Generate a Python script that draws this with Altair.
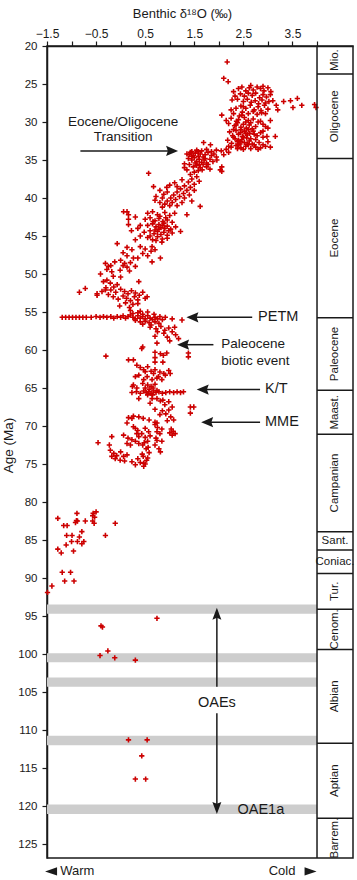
import altair as alt
import pandas as pd

# ---------------- data: (benthic d18O permil, age Ma) ----------------
oligocene_points = [
    (2.17, 22.1), (2.10, 24.25), (2.19, 24.7),
    (2.40, 25.6), (2.47, 25.4), (2.55, 25.9), (2.62, 25.5), (2.70, 25.8), (2.78, 25.4), (2.85, 25.6),
    (2.92, 25.9), (3.00, 25.5), (3.06, 26.0), (2.65, 25.2), (2.90, 25.3), (2.30, 26.0),
    (2.44, 26.3), (2.52, 26.6), (2.60, 26.2), (2.68, 26.5), (2.75, 26.2), (2.83, 26.8), (2.90, 26.4),
    (2.97, 26.7), (3.05, 26.4),
    (2.38, 27.0), (2.50, 27.3), (2.58, 27.0), (2.66, 27.4), (2.74, 27.2), (2.81, 27.6), (2.88, 27.1),
    (2.95, 27.5), (3.02, 27.3), (3.10, 27.2),
    (2.27, 27.1), (2.33, 26.6), (2.45, 27.9), (2.55, 28.2), (2.64, 27.8), (2.72, 28.4), (2.80, 28.0),
    (2.86, 28.5), (2.93, 27.8), (3.00, 28.3), (3.17, 27.8), (3.20, 28.4), (2.35, 28.2), (2.25, 28.4),
    (2.50, 28.0),
    (3.32, 27.3), (3.46, 27.2), (3.60, 26.9), (3.51, 28.1), (3.69, 27.8), (3.95, 27.7), (3.98, 28.1),
    (2.48, 28.7), (2.60, 28.9), (2.70, 28.6), (2.78, 29.0), (2.87, 28.8), (2.95, 28.9), (2.06, 29.1),
    (2.30, 28.9), (2.42, 29.2), (2.47, 29.1),
    (2.25, 29.5), (2.40, 29.7), (2.52, 29.4), (2.60, 29.8), (2.70, 29.6), (2.85, 29.9), (2.55, 30.0),
    (2.36, 29.9), (2.15, 29.8), (3.05, 29.8), (2.65, 30.1), (2.80, 30.0),
    (2.20, 30.2), (2.32, 30.5), (2.38, 30.1), (2.45, 30.7), (2.50, 30.3), (2.56, 30.8), (2.62, 30.4),
    (2.68, 30.9), (2.75, 30.6), (2.90, 30.3), (3.00, 30.8), (2.95, 30.6),
    (2.22, 31.3), (2.28, 31.8), (2.35, 31.1), (2.40, 31.6), (2.44, 31.4), (2.48, 31.9), (2.52, 31.2),
    (2.58, 31.7), (2.63, 31.5), (2.70, 31.2), (2.78, 31.8), (2.85, 31.4), (2.98, 31.9), (3.15, 31.9),
    (2.30, 31.0), (2.60, 31.0), (2.72, 31.6), (2.90, 31.2),
    (2.18, 32.4), (2.26, 32.8), (2.33, 32.2), (2.38, 32.6), (2.43, 32.9), (2.47, 32.3), (2.52, 32.7),
    (2.57, 32.1), (2.62, 32.5), (2.68, 32.9), (2.75, 32.3), (2.82, 32.7), (2.90, 33.0), (3.00, 32.6),
    (2.90, 32.0), (2.30, 32.0), (2.45, 32.6), (2.58, 32.9), (2.72, 33.0),
    (2.25, 33.3), (2.35, 33.1), (2.45, 33.4), (2.55, 33.2), (2.65, 33.5), (2.75, 33.3), (2.85, 33.4),
    (2.95, 33.2), (3.05, 33.3), (2.60, 33.0), (2.50, 33.6), (2.40, 33.0), (2.80, 33.6), (2.38, 33.5),
    (2.20, 33.2),
    (2.45, 31.0), (2.55, 31.5), (2.35, 30.4), (2.65, 32.2), (2.50, 32.0), (2.40, 32.4),
]

eocene_points = [
    # Eocene/Oligocene step
    (1.45, 33.9), (1.55, 33.7), (1.65, 33.8), (1.75, 33.6), (1.85, 33.9), (1.95, 33.7), (2.05, 33.8),
    (2.15, 33.6), (1.69, 32.7), (1.83, 33.0), (2.20, 34.0), (1.58, 33.9),
    (1.35, 34.2), (1.42, 34.0), (1.48, 34.4), (1.52, 34.1), (1.58, 34.5), (1.62, 34.2), (1.68, 34.6),
    (1.72, 34.3), (1.78, 34.0), (1.85, 34.4), (1.90, 34.2), (1.45, 34.5), (1.40, 34.3), (1.95, 34.6),
    (2.10, 34.3),
    (1.38, 34.8), (1.45, 35.0), (1.50, 34.7), (1.55, 35.2), (1.60, 34.9), (1.65, 35.3), (1.70, 35.0),
    (1.75, 35.4), (1.82, 34.9), (1.88, 35.2), (1.30, 35.5), (1.72, 34.8), (1.52, 35.4),
    (1.40, 35.6), (1.48, 35.9), (1.55, 35.7), (1.62, 36.0), (1.68, 35.6), (1.75, 35.9), (1.82, 36.2),
    (1.58, 36.4), (1.50, 36.6), (1.96, 35.0), (2.03, 36.3), (2.06, 36.5), (2.06, 35.9), (1.42, 36.9),
    (1.35, 36.3), (1.60, 35.6), (1.66, 36.3), (1.78, 35.6), (1.30, 36.0),
    # late middle Eocene
    (0.57, 36.75),
    (1.55, 37.2), (1.45, 37.5), (1.60, 37.8), (1.38, 37.9), (1.50, 38.2), (1.30, 38.4), (1.42, 38.6),
    (1.22, 38.8), (1.35, 39.0), (1.15, 39.2), (1.28, 39.4), (1.08, 39.6), (1.20, 39.8), (1.02, 40.0),
    (1.12, 40.2), (0.95, 40.4), (1.05, 40.6), (0.90, 40.8), (1.00, 41.0), (0.85, 41.2), (1.35, 42.2),
    (1.62, 41.1), (0.67, 38.5), (0.80, 39.0), (0.94, 38.6), (0.72, 39.8), (0.88, 39.5),
    (1.10, 38.0), (1.25, 37.6), (1.00, 38.3), (1.15, 38.5), (0.95, 39.2), (1.40, 39.6), (1.50, 39.0),
    (1.30, 40.0), (0.85, 40.0), (0.80, 40.6), (1.15, 41.0), (1.25, 40.6), (0.70, 40.3), (1.45, 40.4),
    # middle Eocene
    (0.13, 41.8), (0.06, 41.8), (0.16, 42.2), (0.16, 42.8), (0.16, 43.5), (0.40, 43.6), (0.30, 42.5),
    (0.22, 44.3), (0.35, 44.0),
    (0.55, 42.0), (0.65, 41.8), (0.75, 42.2), (0.90, 41.9), (1.00, 42.3), (1.10, 42.0),
    (0.50, 42.8), (0.60, 42.6), (0.70, 43.0), (0.78, 42.7), (0.86, 43.1), (0.95, 42.9), (1.05, 43.2),
    (0.55, 43.6), (0.65, 43.4), (0.72, 43.8), (0.78, 43.5), (0.82, 43.9), (0.86, 43.6), (0.90, 44.0),
    (0.95, 43.7), (1.02, 44.1), (1.12, 43.8),
    (0.48, 44.5), (0.60, 44.3), (0.68, 44.7), (0.75, 44.4), (0.82, 44.8), (0.88, 44.5), (0.95, 44.9),
    (1.05, 44.6), (1.22, 44.4),
    (0.55, 45.2), (0.65, 45.5), (0.75, 45.1), (0.85, 45.4), (0.95, 45.3), (0.40, 45.0), (0.30, 45.5),
    (0.78, 44.1), (0.70, 44.2), (0.88, 43.3), (0.92, 42.6), (0.66, 43.1), (0.60, 45.0), (0.72, 45.6),
    (0.80, 42.4), (0.98, 44.3), (0.84, 45.8),
    # early Eocene
    (-0.07, 46.0), (0.13, 46.5), (0.23, 46.8), (0.40, 46.4), (0.50, 46.7), (0.64, 46.4), (0.70, 46.8),
    (0.81, 47.9), (0.64, 48.4), (0.26, 47.9), (0.13, 47.6), (0.45, 47.3), (0.35, 47.9),
    (0.05, 47.2), (0.55, 47.6), (0.62, 47.0), (-0.12, 48.4), (0.18, 49.6), (0.00, 50.4), (-0.15, 50.3),
    (0.00, 48.2), (0.08, 48.6), (0.13, 49.1), (-0.01, 49.5), (0.05, 48.9),
    (-0.31, 48.6), (-0.25, 49.0), (-0.18, 49.7), (-0.28, 49.4), (-0.41, 50.0), (-0.20, 48.9),
    (0.20, 48.5), (0.30, 49.0),
    (-0.35, 51.0), (-0.21, 51.2), (-0.28, 50.8), (-0.14, 51.7), (-0.07, 51.4), (0.37, 51.0),
    (-0.72, 51.9), (-0.84, 52.4), (-0.48, 52.6), (-0.48, 52.8),
    (-0.30, 51.8), (-0.20, 52.1), (-0.10, 52.4), (0.00, 52.0), (0.08, 52.3), (0.15, 52.6), (0.22, 52.2),
    (0.30, 52.5), (0.38, 52.8), (0.45, 52.4), (0.54, 53.0),
    (-0.25, 52.7), (-0.15, 53.0), (-0.05, 53.3), (0.05, 52.9), (0.12, 53.2), (0.20, 53.5), (0.28, 53.0),
    (0.35, 53.4), (0.50, 53.2),
    (-0.38, 52.3), (-0.31, 52.1), (0.10, 53.8), (0.25, 54.0), (0.35, 53.9), (-0.02, 54.2), (0.18, 54.4),
]

paleocene_points = [
    # PETM
    (-1.19, 55.7), (-1.12, 55.7), (-1.05, 55.7), (-0.98, 55.7), (-0.91, 55.7), (-0.84, 55.7),
    (-0.77, 55.7), (-0.70, 55.7), (-0.60, 55.7), (-0.50, 55.6), (-0.42, 55.7), (-0.35, 55.6),
    (-0.28, 55.7), (-0.20, 55.6), (-0.14, 55.8), (-0.07, 55.6), (0.00, 55.7), (0.05, 55.5),
    (0.10, 55.8), (0.15, 55.6), (0.20, 55.4), (0.25, 55.7), (0.30, 55.9), (0.35, 55.5), (0.40, 55.8),
    (0.45, 55.6), (0.50, 55.9), (0.55, 55.5), (0.60, 55.8), (0.65, 56.0), (0.70, 55.7), (0.75, 55.9),
    (0.80, 55.6), (0.85, 56.0), (0.91, 55.7),
    (0.25, 55.2), (0.35, 55.1), (0.45, 55.3), (0.30, 56.1), (0.40, 56.3), (0.50, 56.2), (0.58, 56.4),
    (0.45, 56.6), (0.62, 56.7), (0.70, 56.3), (0.78, 56.5), (0.68, 55.3), (0.55, 55.0), (0.40, 54.9),
    (0.20, 54.8), (1.05, 55.9), (1.25, 56.05),
    # late Paleocene
    (0.60, 57.0), (0.72, 57.2), (0.82, 56.9), (0.90, 57.4), (0.98, 57.1), (1.05, 57.6), (0.88, 57.8),
    (1.12, 58.0), (0.95, 58.3), (1.18, 58.5), (0.75, 57.6), (1.00, 58.8), (0.70, 58.2), (1.10, 57.0),
    (0.43, 59.8), (0.45, 59.6), (0.74, 59.1), (0.70, 60.3), (0.70, 61.0), (0.70, 61.6), (0.81, 60.5),
    (0.87, 60.7), (0.94, 60.4), (1.38, 60.4), (1.38, 60.9), (0.16, 61.3), (0.26, 61.3), (-0.30, 60.8),
    (0.86, 61.6),
    (0.33, 62.0), (0.40, 62.3), (0.47, 62.6), (0.55, 62.2), (0.62, 62.8), (0.70, 62.6), (0.80, 62.9),
    (0.88, 63.1), (0.98, 62.7), (1.01, 63.1),
    (0.30, 63.5), (0.37, 63.3), (0.50, 62.85), (0.67, 63.1), (0.77, 63.5), (0.91, 63.3), (0.84, 63.9),
    (0.54, 63.5), (0.64, 63.9), (0.74, 63.7), (0.47, 63.9),
    (0.26, 64.6), (0.33, 65.0), (0.24, 64.8), (0.45, 64.4), (0.55, 64.6), (0.62, 64.8), (0.70, 64.5),
    (0.50, 65.0), (0.58, 65.2), (0.66, 65.0), (0.74, 65.3),
    # K/T boundary
    (0.23, 65.6), (0.32, 65.5), (0.40, 65.7), (0.47, 65.4), (0.52, 65.6), (0.57, 65.5), (0.62, 65.7),
    (0.67, 65.4), (0.72, 65.6), (0.78, 65.5), (0.85, 65.7), (0.92, 65.6), (1.00, 65.5), (1.08, 65.6),
    (1.15, 65.5), (1.22, 65.6), (1.28, 65.5), (0.55, 65.9), (0.65, 65.9),
]

late_cretaceous_points = [
    # Maastrichtian
    (0.37, 66.4), (0.64, 66.4), (0.74, 66.4), (0.81, 66.7), (0.86, 66.6), (0.98, 66.8), (0.90, 67.2),
    (1.05, 67.5), (0.98, 67.9), (0.85, 68.0), (0.80, 68.5), (1.42, 67.5), (1.49, 67.5), (1.42, 68.3),
    (0.92, 68.4), (1.02, 68.8), (1.08, 69.2), (0.95, 69.3), (0.70, 69.5), (0.60, 67.0), (0.70, 67.8),
    (0.16, 68.9), (0.26, 68.7), (0.37, 68.8), (0.46, 69.0), (0.58, 69.2), (0.74, 69.6), (0.13, 69.6),
    (0.23, 69.0),
    # Campanian
    (0.30, 70.3), (0.35, 70.6), (0.50, 70.3), (0.57, 70.75), (0.74, 70.75), (0.84, 70.4), (1.03, 70.4),
    (1.07, 70.7), (1.11, 71.0), (1.05, 71.2), (1.00, 70.9), (0.26, 70.1),
    (0.43, 71.0), (0.50, 71.5), (0.55, 72.0), (0.45, 72.5), (0.52, 73.0), (0.58, 73.5), (0.46, 74.0),
    (0.53, 74.5), (0.50, 75.0), (0.47, 75.3), (0.60, 71.3), (0.48, 72.2), (0.56, 72.8), (0.44, 73.7),
    (0.55, 74.2),
    (0.70, 69.8), (0.75, 70.2), (0.80, 71.0), (0.72, 71.6), (0.84, 72.0), (0.70, 72.5), (0.78, 73.0),
    (0.81, 73.4), (0.74, 71.9),
    (0.06, 71.2), (0.15, 71.6), (0.23, 71.8), (0.30, 72.0), (0.37, 72.3), (0.20, 72.5), (0.33, 71.0),
    (0.37, 71.4),
    (-0.18, 71.4), (-0.46, 72.2), (-0.23, 72.5), (-0.21, 73.2), (-0.14, 73.6), (-0.11, 74.3),
    (-0.01, 74.5), (0.06, 74.0), (0.13, 72.3), (0.13, 73.8), (0.00, 73.4), (-0.08, 73.9), (0.08, 74.6),
    (-0.18, 74.0), (0.23, 74.7), (0.30, 75.1), (0.40, 74.8), (0.47, 74.9), (0.35, 74.3),
    # Santonian - Turonian
    (-1.28, 82.15), (-1.16, 83.1), (-1.09, 83.1), (-0.89, 81.5), (-0.90, 82.45), (-0.56, 81.5),
    (-0.53, 82.0), (-0.57, 81.8), (-0.50, 81.3), (-0.11, 82.8), (-0.72, 82.5), (-0.88, 82.5),
    (-0.92, 82.7), (-0.57, 82.5), (-0.54, 82.8),
    (-1.10, 84.4), (-0.99, 84.4), (-0.84, 84.6), (-0.79, 83.9), (-0.31, 84.4),
    (-1.11, 85.65), (-1.00, 85.2), (-0.88, 85.2), (-0.79, 85.5), (-0.75, 85.2), (-1.28, 86.2),
    (-1.21, 86.7), (-0.96, 86.45),
    (-1.19, 89.25), (-1.02, 89.25), (-1.14, 90.4), (-0.95, 90.4), (-1.40, 91.05), (-1.49, 91.9),
]

mid_cretaceous_points = [
    (0.74, 95.3), (-0.40, 96.3), (-0.37, 96.45), (-0.26, 99.6), (-0.42, 100.2), (-0.12, 100.5),
    (0.30, 100.8), (0.16, 111.3), (0.54, 111.3), (0.43, 113.4), (0.30, 116.45), (0.51, 116.45),
]

# ---------------- geologic time scale (right-hand column) ----------------
stage_names = ["Mio.", "Oligocene", "Eocene", "Paleocene", "Maast.", "Campanian", "Sant.",
               "Coniac.", "Tur.", "Cenom.", "Albian", "Aptian", "Barrem."]
stage_top = [20, 23.7, 34.8, 55.75, 65.3, 71.1, 83.9, 86.3, 89.4, 94.1, 99.4, 111.75, 121.6]
stage_base = [23.7, 34.8, 55.75, 65.3, 71.1, 83.9, 86.3, 89.4, 94.1, 99.4, 111.75, 121.6, 126.84]
stage_upright = [False, False, False, False, False, False, True, True, False, False, False, False, False]

# ---------------- oceanic anoxic events (grey bands) ----------------
oae_top = [93.5, 99.9, 103.1, 110.75, 119.8]
oae_base = [94.7, 101.1, 104.3, 112.0, 121.05]

# ---------------- annotations ----------------
label_text = ["Eocene/Oligocene", "Transition", "PETM", "Paleocene", "biotic event", "K/T", "MME",
              "OAEs", "OAE1a", "Warm", "Cold"]
label_x = [0.05, 0.05, 2.80, 2.05, 2.05, 2.94, 2.94, 1.96, 2.38, -1.23, 3.56]
label_age = [30.05, 31.95, 55.7, 59.25, 61.45, 65.15, 69.5, 106.5, 120.5, 128.6, 128.6]
label_align = ["center", "center", "left", "left", "left", "left", "left", "center", "left", "left", "right"]
label_size = [13.5, 13.5, 14.5, 13.5, 13.5, 14.5, 14.5, 14.5, 14.5, 13, 13]

arrow_x = [-0.82, 2.68, 1.89, 2.84, 2.84, 1.96, 1.96]
arrow_x2 = [1.02, 1.49, 1.30, 1.70, 1.79, 1.96, 1.96]
arrow_y = [33.8, 55.7, 59.3, 65.2, 69.5, 95.0, 107.8]
arrow_y2 = [33.8, 55.7, 59.3, 65.2, 69.5, 104.3, 120.0]

HEAD_R = "M0,0L-2,-0.85L-1.7,0L-2,0.85Z"
HEAD_L = "M0,0L2,-0.85L1.7,0L2,0.85Z"
HEAD_U = "M0,0L-0.75,2L0,1.7L0.75,2Z"
HEAD_D = "M0,0L-0.75,-2L0,-1.7L0.75,-2Z"
head_x = [1.17, 1.34, 1.15, 1.55, 1.64, 1.96, 1.96]
head_age = [33.8, 55.7, 59.3, 65.2, 69.5, 93.9, 121.05]
head_shape = [HEAD_R, HEAD_L, HEAD_L, HEAD_L, HEAD_L, HEAD_U, HEAD_D]

TRI_L = "M-1,0L1,-0.7L1,0.7Z"
TRI_R = "M1,0L-1,-0.7L-1,0.7Z"
tri_x = [-1.417, 3.869]
tri_age = [128.6, 128.6]
tri_shape = [TRI_L, TRI_R]

PLUS = "M-1,-0.3H-0.3V-1H0.3V-0.3H1V0.3H0.3V1H-0.3V0.3H-1Z"

# ---------------- chart geometry ----------------
X_LEFT, X_RIGHT, PANEL_RIGHT = -1.5, 4.0, 4.733
AGE_TOP, AGE_BOTTOM = 20, 126.84
x_ticks = [-1.5, -1.0, -0.5, 0.0, 0.5, 1.0, 1.5, 2.0, 2.5, 3.0, 3.5, 4.0]
y_ticks = list(range(20, 126, 5))

FONT = "Liberation Sans"
INK = "#1a1a1a"
RED = "#cc0000"
BAND = "#cdcdcd"

all_points = (oligocene_points + eocene_points + paleocene_points
              + late_cretaceous_points + mid_cretaceous_points)
pts = pd.DataFrame(all_points, columns=["d18o", "age"])

xs = alt.Scale(domain=[X_LEFT, PANEL_RIGHT], nice=False, zero=False)
ys = alt.Scale(domain=[AGE_TOP, AGE_BOTTOM], reverse=True, nice=False, zero=False)

x_axis = alt.Axis(
    orient="top", values=x_ticks,
    labelExpr="(datum.value % 1 == 0) ? '' : format(datum.value, '.1f')",
    title="Benthic δ¹⁸O (‰)", titleX=135, titleY=-28.5, titleBaseline="alphabetic",
    titleAlign="center", titleFontSize=13, titleFontWeight="normal",
    labelFontSize=12, labelPadding=1, tickSize=5, tickWidth=1.2, domainWidth=1.5,
    tickColor=INK, domainColor=INK, labelColor=INK, titleColor=INK,
    grid=False, labelFlush=False, labelOverlap=False)
y_axis = alt.Axis(
    orient="left", values=y_ticks, title="Age (Ma)",
    titleX=-34.5, titleY=399, titleAngle=270, titleBaseline="alphabetic", titleAlign="center",
    titleFontSize=13.5, titleFontWeight="normal",
    labelFontSize=11.5, labelPadding=5, tickSize=5, tickWidth=1.2, domainWidth=1.5,
    tickColor=INK, domainColor=INK, labelColor=INK, titleColor=INK,
    grid=False, labelFlush=False, labelOverlap=False)


def X(f):
    return alt.X(f, type="quantitative", scale=xs, axis=x_axis, title="Benthic δ¹⁸O (‰)")


def Y(f):
    return alt.Y(f, type="quantitative", scale=ys, axis=y_axis, title="Age (Ma)")


bands_df = pd.DataFrame({"x": X_LEFT, "x2": X_RIGHT, "y": oae_top, "y2": oae_base})
bands = alt.Chart(bands_df).mark_rect(color=BAND).encode(x=X("x"), x2="x2", y=Y("y"), y2="y2")

points = alt.Chart(pts).mark_point(
    shape=PLUS, filled=True, size=28, color=RED, opacity=1, strokeWidth=0
).encode(x=X("d18o"), y=Y("age"))

frame_df = pd.DataFrame({"x": [X_RIGHT], "y": [AGE_TOP], "y2": [AGE_BOTTOM]})
frame = alt.Chart(frame_df).mark_rule(color=INK, strokeWidth=1.5).encode(
    x=X("x"), y=Y("y"), y2="y2")

bounds_df = pd.DataFrame({"x": X_RIGHT, "x2": PANEL_RIGHT, "y": stage_top[1:]})
bounds = alt.Chart(bounds_df).mark_rule(color=INK, strokeWidth=1.5).encode(
    x=X("x"), x2="x2", y=Y("y"))

stage_df = pd.DataFrame({
    "name": stage_names,
    "mid": [(a + b) / 2 for a, b in zip(stage_top, stage_base)],
    "upright": stage_upright,
    "x": (X_RIGHT + PANEL_RIGHT) / 2,
})
stage_rot = alt.Chart(stage_df[~stage_df.upright]).mark_text(
    angle=270, align="center", baseline="middle", fontSize=11.5, color=INK
).encode(x=X("x"), y=Y("mid"), text="name:N")
stage_up = alt.Chart(stage_df[stage_df.upright]).mark_text(
    align="center", baseline="middle", fontSize=11.5, color=INK
).encode(x=X("x"), y=Y("mid"), text="name:N")

arrows_df = pd.DataFrame({"x": arrow_x, "x2": arrow_x2, "y": arrow_y, "y2": arrow_y2})
arrows = alt.Chart(arrows_df).mark_rule(color=INK, strokeWidth=1.5).encode(
    x=X("x"), x2="x2", y=Y("y"), y2="y2")

heads_df = pd.DataFrame({"x": head_x, "y": head_age, "s": head_shape})
heads = alt.Chart(heads_df).mark_point(
    filled=True, size=144, color=INK, opacity=1, strokeWidth=0
).encode(x=X("x"), y=Y("y"), shape=alt.Shape("s:N", scale=None, legend=None))

tri_df = pd.DataFrame({"x": tri_x, "y": tri_age, "s": tri_shape})
tris = alt.Chart(tri_df).mark_point(
    filled=True, size=144, color=INK, opacity=1, strokeWidth=0
).encode(x=X("x"), y=Y("y"), shape=alt.Shape("s:N", scale=None, legend=None))

labels_df = pd.DataFrame({"t": label_text, "x": label_x, "y": label_age,
                          "a": label_align, "fs": label_size})
text_layers = []
for al in ["left", "center", "right"]:
    sub = labels_df[labels_df.a == al]
    text_layers.append(
        alt.Chart(sub).mark_text(align=al, baseline="middle", color=INK).encode(
            x=X("x"), y=Y("y"), text="t:N", size=alt.Size("fs:Q", scale=None, legend=None))
    )

chart = alt.layer(
    bands, points, frame, bounds, stage_rot, stage_up, arrows, heads, tris, *text_layers
).properties(
    width=306, height=812,
    autosize=alt.AutoSizeParams(type="none"),
    padding={"left": 47, "top": 46, "right": 4, "bottom": 22},
).configure(font=FONT).configure_view(stroke=INK, strokeWidth=1.5)

chart.save("out.html", embed_options={"renderer": "svg", "actions": False})
